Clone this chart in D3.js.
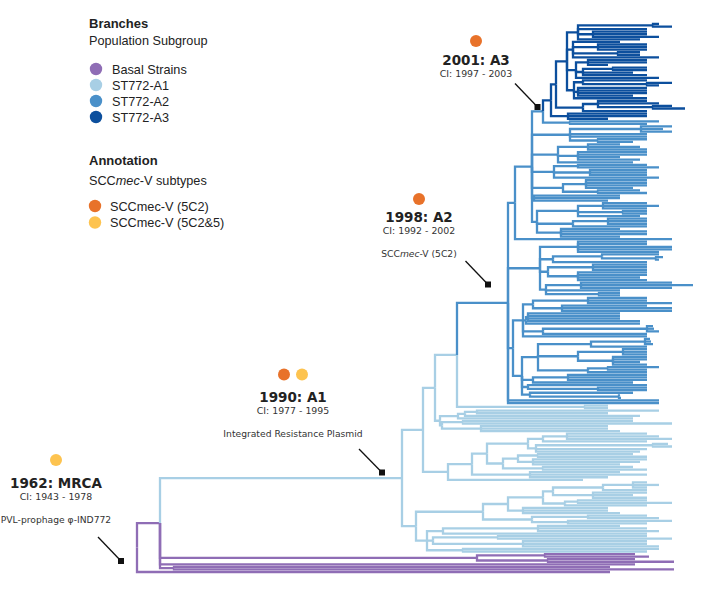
<!DOCTYPE html>
<html><head><meta charset="utf-8">
<script src="https://cdn.jsdelivr.net/npm/d3@7"></script>
<style>body{margin:0;background:#fff}svg{display:block}</style>
</head><body><svg id="chart" width="720" height="600"></svg>
<script>
// ---------- DATA: tree in nested "(children)nodeDate#group" notation, tips = sampling date ----------
const a3B1 = "((2010.1,2011.4)2009.5,2008.9,(2008.9,2008.9,2010.1)2003.5,2008.2)2002.0";
const a3B2 = "(2006.2,(2008.9,2008.9,2008.9)2004.0,(2008.2,2008.2)2006.0,2010.1)2001.5";
const a3B3 = "((2008.9,2008.9,2005.0)2003.0,((2008.9,2008.9)2005.5,2007.5,2008.9)2002.5,2010.1)2001.8";
const a3B4 = "((2008.9,(2011.4,2010.1)2008.9)2002.5,(2008.9,2008.9,2008.9,2007.5)2002.0,2008.9)2001.6";
const a3B5 = "((2008.9,2010.1,(2011.4,2012.7)2009.5)2004.0,2008.9)2002.5";
const a3S  = "(2008.9,2008.9,2005.0)2001.0";
const cladeA3 = "((({a3B1},{a3B2},{a3B3},{a3B4})2000.9,{a3B5})1999.8,{a3S})1999.3#A3";

const a2K0 = "(2010.1,2008.9)2001.2";
const a2K1 = "((2011.4,2010.5,2011.4)2008.3,2008.9,2008.9,(2008.9,2007.5)2004.0)2001.2";
const a2K2 = "((2006.2,2008.2,2008.9)2003.0,(2008.9,2008.9,2006.2,2008.2)2002.0,2007.5)2000.0";
const a2K3 = "((2008.9,2010.1)2002.0,(2008.9,2008.9,2008.9)2003.2,2010.1)1999.6";
const a2K4 = "((2008.9,2008.9,2008.9,2007.5)2002.8,(2008.2,2008.9)2004.0)2000.5";
const a2K5 = "(2006.2,2006.2,2005.0)1997.6";
const a2K6 = "(((2008.9,2010.1,2008.9)2004.5,(2008.9,2008.9)2006.5,2008.2)2002.0,((2008.9,2008.9,2008.9)2005.0,2008.9)2001.5,(2006.2,2008.9,2008.9,2006.2)2000.3)1997.9";
const a2Q  = "((2008.9,2008.9,2011.4,2011.4,2010.1)2002.0,((2010.1,(2010.5,2010.1)2009.8)2004.4,2008.9)1999.5,((2008.9,2008.9,2008.9)2003.5,(2008.9,2008.9,2008.2,2008.9)2002.0)1999.0,((2011.4,2013.5,2011.4)2002.3,2006.2,(2006.2,2006.2)2004.1)1998.8)1998.2";
const a2R1 = "(((2008.9,2008.9,2011.4)2003.0,(2008.9,2011.4,2011.4)2000.4)1997.5,((2006.2,2006.2,2006.2,2008.2)1997.0,2008.2)1996.8,((2009.5,2009.6,2010.1)2008.9,2008.9)1998.5,2008.9)1996.5";
const a2R2 = "((((2009.2,2009.3,2009.5)2008.7,2008.9)2003.3,((2008.9,2008.9,2008.9)2006.5,(2008.9,2008.9,2008.2,2008.9)2005.5)2002.0,((2010.1,2008.9)2005.0,2008.9)2003.0)1998.0,((2008.9,2008.9,2008.9)2001.0,2007.5)1997.5,(2008.9,(2008.9,2008.9)2004.0)1997.0,(2007.5,(2006.2,2006.3)2006.1)1997.2)1996.4";
const cladeA2 = "(((({cladeA3},{a2K0})1998.5,{a2K1},{a2K2},{a2K3},{a2K4},{a2K5},{a2K6})1997.4,2011.4)1995.7,{a2Q},({a2R1},{a2R2})1995.5,2010.1,2010.1)1995.0#A2";

const a1Leaf408 = "(2005.0,2005.0)2002.7";
const a1Small = "((((2010.1,2005.0)1991.9,2008.2)1990.7,2007.5)1990.0,((2007.5,2011.4)1990.5,(2005.0,2005.0,2006.2)1992.3)1988.4)1988.2";
const a1C1 = "((2008.9,2010.1,2011.4)2000.9,2008.9)1998.5";
const a1C2 = "((2011.0,2011.4)2009.5,2008.9,2008.2)1997.8";
const a1D1 = "((2007.5,2008.9)1998.0,(2008.9,2008.2,2006.2)1997.5)1996.0";
const a1D2 = "(2007.5,2008.9)1998.5";
const a1E  = "(2006.2,2008.9,2005.0)1997.2";
const a1Mid = "(((({a1C1},{a1C2})1997.0,({a1D1},{a1D2})1994.5)1992.9,{a1E})1991.4,2002.5)1989.0";
const a1F1 = "((((2008.9,2010.1,2008.9)2007.5,2008.9)2004.5,(2008.9,2007.5,2008.9)2003.5)1999.5,((2008.9,2011.4)2002.0,2008.9)2000.7)1998.5";
const a1F2 = "(2005.0,2005.0,2006.2)1996.5";
const a1F3 = "((2008.9,2010.1)2003.0,(2011.4,2008.9)2001.0)1997.4";
const a1G  = "(((2006.2,2008.9,2010.1)1998.0,2008.9)1988.5,((2008.9,2011.4)1994.0,(2008.9,2008.9,2010.1)1996.5)1987.5,(2010.1,2008.9)1990.5)1986.9";
const cladeA1 = "(((({cladeA2},{a1Leaf408})1989.9,{a1Small})1987.7,{a1Mid})1986.5,((({a1F1},{a1F2})1995.0,{a1F3})1992.5,{a1G})1985.8)1984.4#A1";

const basalP1 = "((2007.7,2009.1)1998.7,(2007.7,2011.6)1999.0)1991.9";
const basalP3 = "(2005.2,2011.6)1961.6";
const treeRoot = "(({cladeA1},{basalP1},2007.7,{basalP3})1960.2#B,2005.2)1957.9#B";

// legend data
const groupKeys   = ["B", "A1", "A2", "A3"];
const groupLabels = ["Basal Strains", "ST772-A1", "ST772-A2", "ST772-A3"];
const groupColors = ["#8f6db5", "#a8cfe5", "#4a90c9", "#0c4f9d"];
const subtypeLabels = ["SCCmec-V (5C2)", "SCCmec-V (5C2&5)"];
const subtypeColors = ["#e8722a", "#fdc34f"];

// annotation data
const annTitles   = ["1962: MRCA", "1990: A1", "1998: A2", "2001: A3"];
const annCIs      = ["CI: 1943 - 1978", "CI: 1977 - 1995", "CI: 1992 - 2002", "CI: 1997 - 2003"];
const annNotes    = ["PVL-prophage \u03c6-IND772", "Integrated Resistance Plasmid", "SCC*mec*-V (5C2)", ""];
const annSubtypes = [[1], [0, 1], [0], [0]];

// ---------- layout of annotation blocks (pixels) ----------
const annLayout = [
  {cx: 56,  dotY: 460, titleY: 488, ciY: 499.5, noteY: 522.5, line: [98, 537, 121, 561]},
  {cx: 293, dotY: 374.5, titleY: 402, ciY: 414, noteY: 436.5, line: [359, 449, 382, 472.5]},
  {cx: 419, dotY: 199, titleY: 222, ciY: 234, noteY: 256.5, line: [465.5, 261, 488, 284.5]},
  {cx: 476, dotY: 41, titleY: 65, ciY: 76.5, noteY: 0, line: [515, 83.5, 537.5, 107]}
];

// ---------- parse ----------
const subtrees = {a3B1,a3B2,a3B3,a3B4,a3B5,a3S,cladeA3,a2K0,a2K1,a2K2,a2K3,a2K4,a2K5,a2K6,a2Q,a2R1,a2R2,cladeA2,
  a1Leaf408,a1Small,a1C1,a1C2,a1D1,a1D2,a1E,a1Mid,a1F1,a1F2,a1F3,a1G,cladeA1,basalP1,basalP3};
function expand(s) { return s.replace(/\{(\w+)\}/g, (m, k) => expand(subtrees[k])); }
function parse(str) {
  let i = 0;
  function node() {
    const n = {};
    if (str[i] === "(") {
      i++; n.children = [node()];
      while (str[i] === ",") { i++; n.children.push(node()); }
      i++;
    }
    const m = /^[0-9.]+/.exec(str.slice(i)); n.date = +m[0]; i += m[0].length;
    if (str[i] === "#") { const t = /^#(\w+)/.exec(str.slice(i)); n.group = t[1]; i += t[0].length; }
    return n;
  }
  return node();
}

const root = d3.hierarchy(parse(expand(treeRoot)));
const leaves = root.leaves();
const yLeaf = d3.scaleLinear().domain([0, leaves.length - 1]).range([24, 572]);
leaves.forEach((l, i) => l.py = yLeaf(i));
root.eachAfter(n => { if (n.children) n.py = (n.children[0].py + n.children[n.children.length - 1].py) / 2; });
root.eachBefore(n => { n.group = n.data.group || (n.parent ? n.parent.group : "B"); });

const x = d3.scaleLinear().domain([1958, 2013.5]).range([138, 693]);
const color = d3.scaleOrdinal().domain(groupKeys).range(groupColors);

const svg = d3.select("#chart");

svg.append("g").selectAll("path").data(root.links()).join("path")
  .attr("d", l => `M${x(l.source.data.date)},${l.source.py}V${l.target.py}H${x(l.target.data.date)}`)
  .attr("fill", "none")
  .attr("stroke", l => color(l.target.group))
  .attr("stroke-width", 2.3);

// ---------- legend ----------
const leg = svg.append("g").attr("font-family", "'Liberation Sans', Arial, sans-serif").attr("fill", "#222");
function richText(sel, str) {
  str.split("*").forEach((seg, k) => { if (seg) sel.append("tspan").attr("font-style", k % 2 ? "italic" : null).text(seg); });
}
leg.append("text").attr("x", 89).attr("y", 28).attr("font-size", 13).attr("font-weight", "bold").text("Branches");
leg.append("text").attr("x", 89).attr("y", 45).attr("font-size", 12.7).text("Population Subgroup");
groupLabels.forEach((lab, i) => {
  leg.append("circle").attr("cx", 96).attr("cy", 69 + i * 16).attr("r", 6.2).attr("fill", groupColors[i]);
  leg.append("text").attr("x", 112).attr("y", 73.5 + i * 16).attr("font-size", 12.7).text(lab);
});
leg.append("text").attr("x", 89).attr("y", 165).attr("font-size", 13).attr("font-weight", "bold").text("Annotation");
richText(leg.append("text").attr("x", 89).attr("y", 185).attr("font-size", 12.7), "SCC*mec*-V subtypes");
subtypeLabels.forEach((lab, i) => {
  leg.append("circle").attr("cx", 95).attr("cy", 206 + i * 16.5).attr("r", 6.2).attr("fill", subtypeColors[i]);
  leg.append("text").attr("x", 110).attr("y", 210.5 + i * 16.5).attr("font-size", 12.7).text(lab);
});

// ---------- annotations ----------
const ann = svg.append("g").attr("font-family", "'DejaVu Sans', Verdana, sans-serif").attr("text-anchor", "middle");
annTitles.forEach((t, i) => {
  const L = annLayout[i];
  const subs = annSubtypes[i];
  subs.forEach((s, k) => {
    ann.append("circle").attr("cx", L.cx + (k - (subs.length - 1) / 2) * 18).attr("cy", L.dotY).attr("r", 6).attr("fill", subtypeColors[s]);
  });
  ann.append("text").attr("x", L.cx).attr("y", L.titleY).attr("font-size", 13.5).attr("font-weight", "bold").attr("fill", "#222").text(t);
  ann.append("text").attr("x", L.cx).attr("y", L.ciY).attr("font-size", 9.4).attr("fill", "#333").text(annCIs[i]);
  if (annNotes[i]) richText(ann.append("text").attr("x", L.cx).attr("y", L.noteY).attr("font-size", 9.2).attr("fill", "#333"), annNotes[i]);
  ann.append("line").attr("x1", L.line[0]).attr("y1", L.line[1]).attr("x2", L.line[2]).attr("y2", L.line[3])
    .attr("stroke", "#111").attr("stroke-width", 1.3);
  ann.append("rect").attr("x", L.line[2] - 3).attr("y", L.line[3] - 3).attr("width", 6).attr("height", 6).attr("fill", "#111");
});
</script></body></html>
